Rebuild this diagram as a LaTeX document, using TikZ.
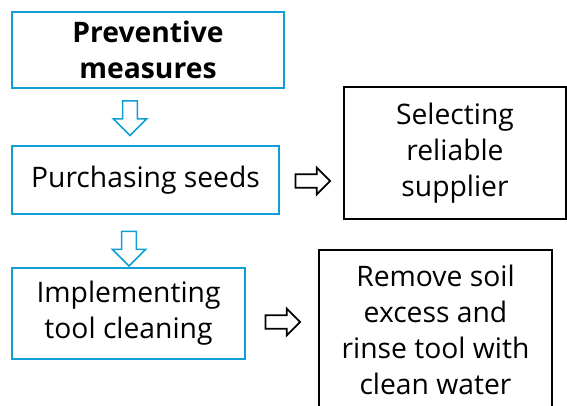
\documentclass[tikz,border=0pt]{standalone}
\usepackage{fontspec}
\setmainfont{Open Sans}
\usepackage{tikz}
\usetikzlibrary{shapes.arrows}
\definecolor{flowblue}{HTML}{0F9ED5}

\begin{document}
\begin{tikzpicture}[
  x=0.75pt, y=-0.75pt,
  bluebox/.style={draw=flowblue, line width=1.5pt, align=center,
              inner sep=0pt, font=\fontsize{21.2}{27}\selectfont},
  blackbox/.style={draw=black, line width=1.5pt, align=center,
              inner sep=0pt, font=\fontsize{21.2}{27}\selectfont},
  downarr/.style={single arrow, draw=flowblue, line width=1.2pt,
              shape border rotate=270, minimum height=26pt,
              inner sep=4.9pt, single arrow head extend=7pt},
  rightarr/.style={single arrow, draw=black, line width=1.3pt,
              minimum height=26pt, inner sep=4.4pt,
              single arrow head extend=5pt}
]
\useasboundingbox (0,0) rectangle (567,405);
\clip (0,0) rectangle (567,405);

\node[bluebox, minimum width=204pt, minimum height=57pt] (nprev) at (148,50)
  {\textbf{Preventive}\\\textbf{measures}};
\node[bluebox, minimum width=200.25pt, minimum height=51pt] (npurch) at (145.5,180)
  {Purchasing seeds};
\node[bluebox, minimum width=174.75pt, minimum height=68.25pt] (ntool) at (128.5,313.5)
  {Implementing\\tool cleaning};
\node[blackbox, minimum width=166.5pt, minimum height=99pt] (nsupp) at (455,153)
  {Selecting\\reliable\\supplier};
\node[blackbox, minimum width=174.75pt, minimum height=120pt] (nrinse) at (435.5,330)
  {Remove soil\\excess and\\rinse tool with\\clean water};

\node[downarr] (ndown1) at (130,114.5) {};
\node[downarr] (ndown2) at (129,245) {};
\node[rightarr] (nright1) at (309.5,181) {};
\node[rightarr] (nright2) at (279.5,322) {};
\end{tikzpicture}
\end{document}
